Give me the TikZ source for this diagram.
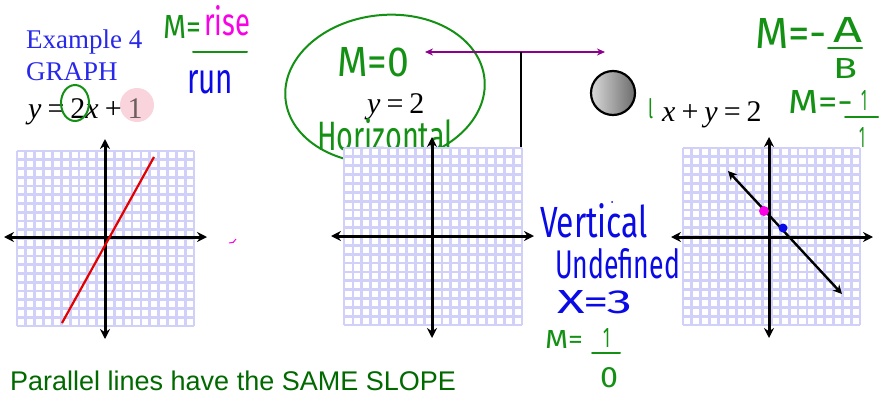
\documentclass[tikz,border=0pt]{standalone}
\usepackage{fontspec}
\setmainfont{Liberation Serif}
\newfontfamily\handfont{Fira Sans}
\newfontfamily\sansfont{Liberation Sans}
\usetikzlibrary{arrows.meta}
\definecolor{lav}{RGB}{208,208,248}
\definecolor{hgreen}{RGB}{20,145,20}
\definecolor{hblue}{RGB}{10,10,230}
\definecolor{hmag}{RGB}{250,0,230}
\definecolor{dgreen}{RGB}{0,105,0}
\definecolor{exblue}{RGB}{40,40,235}
\definecolor{purp}{RGB}{140,0,140}
\definecolor{pinkc}{RGB}{250,212,220}
\newcommand{\hw}[3]{\resizebox{#1pt}{#2pt}{\handfont #3}}
\newcommand{\msp}{\hspace{0.2em}}
\tikzset{
  gridline/.style={draw=lav, line width=2.8pt},
  axis/.style={draw=black, line width=3pt, {Stealth[length=10pt,width=10pt]}-{Stealth[length=10pt,width=10pt]}},
  hand/.style={inner sep=0pt, outer sep=0pt, anchor=north west},
  serif/.style={inner sep=0pt, anchor=base west, font=\fontsize{27}{30}\selectfont},
  mathtxt/.style={inner sep=0pt, anchor=base west, font=\fontsize{30}{32}\selectfont},
  frac/.style={line width=2pt, line cap=round}
}
\newcommand{\mygrid}[4]{%
  \fill[white] (#1,#2) rectangle (#3,#4);
  \foreach \i in {0,...,20} {
    \draw[gridline] ({#1+\i*(#3-#1)/20},#2) -- ({#1+\i*(#3-#1)/20},#4);
    \draw[gridline] (#1,{#2+\i*(#4-#2)/20}) -- (#3,{#2+\i*(#4-#2)/20});
  }%
}
\begin{document}
\begin{tikzpicture}[x=1pt,y=-1pt]
\useasboundingbox[fill=white] (0,0) rectangle (881,394);

% ---------- top-left text ----------
\node[serif, text=exblue] (ex) at (26,48) {Example 4};
\node[serif, text=exblue] (gr) at (26,80) {GRAPH};
\fill[pinkc] (137,105) circle (17);
\node[mathtxt] (eq1) at (28,118) {\textit{y}\msp=\msp2\textit{x}\msp+\msp\textcolor[RGB]{110,95,95}{1}};
\draw[hgreen, line width=2pt] (75,103) ellipse (14 and 18);

% slope formula
\node[hand, text=hgreen] (m1) at (163,15) {\hw{38}{23}{M=}};
\node[hand, text=hmag] (rise) at (204,5) {\hw{46}{30}{rise}};
\coordinate (f1a) at (193,52); \coordinate (f1b) at (247,52);
\draw[hgreen, frac] (f1a) -- (f1b);
\node[hand, text=hblue] (run) at (187,70) {\hw{46}{23}{run}};

% ---------- grid 1 ----------
\mygrid{17}{151}{194}{326}
\coordinate (a1l) at (4,237); \coordinate (a1r) at (207,237);
\coordinate (a1t) at (105,139); \coordinate (a1b) at (105,339);
\draw[axis] (a1l) -- (a1r);
\draw[axis] (a1t) -- (a1b);
\coordinate (r1) at (154,157); \coordinate (r2) at (62,323);
\draw[red!90!black, line width=2.2pt] (r1) -- (r2);
\draw[hmag, line width=1pt] (229,243) to[bend right=40] (236,239);

% ---------- middle: horizontal ----------
\node[mathtxt] (eq2) at (367,113) {\textit{y}\msp=\msp2};
\draw[hgreen, line width=2pt, rotate around={6:(385,89)}] (385,89) ellipse (100 and 74);
\node[hand, text=hgreen] (m0) at (337,47) {\hw{72}{29}{M=0}};
\node[hand, text=hgreen] (hz) at (317,118) {\hw{136}{32}{Horizontal}};

\coordinate (pl) at (425,52); \coordinate (pr) at (605,52);
\draw[purp, line width=1.6pt, {Stealth[length=8pt,width=7pt]}-{Stealth[length=8pt,width=7pt]}] (pl) -- (pr);
\coordinate (vt) at (521,52); \coordinate (vb) at (521,223);
\draw[black, line width=2.8pt] (vt) -- (vb);

% ---------- grid 2 ----------
\mygrid{344}{148}{522}{325}
\coordinate (a2l) at (331,236); \coordinate (a2r) at (534,236);
\coordinate (a2t) at (432,137); \coordinate (a2b) at (432,338);
\draw[axis] (a2l) -- (a2r);
\draw[axis] (a2t) -- (a2b);

\node[hand, text=hblue] (vert) at (540,203) {\hw{108}{34}{Vertical}};
\node[hand, text=hblue] (und) at (555,248) {\hw{125}{30}{Undefined}};
\node[hand, text=hblue] (x3) at (557,290) {\hw{75}{23}{X=3}};
\fill[hblue] (612,202) circle (1);
\node[hand, text=hgreen] (m10) at (545,330) {\hw{38}{18}{M=}};
\node[hand, text=hgreen] (one0) at (603,328) {\hw{7}{19}{1}};
\coordinate (f3a) at (592,353); \coordinate (f3b) at (620,353);
\draw[hgreen, frac] (f3a) -- (f3b);
\node[hand, text=hgreen] (zero) at (600,367) {\hw{18}{20}{0}};

% ---------- gray ball ----------
\shade[left color=gray!30, right color=gray!85!black] (613,93) circle (22);
\draw[black, line width=2.2pt] (613,93) circle (22);

% ---------- right equation ----------
\node[hand, text=hgreen] (c1) at (648,98) {\hw{5}{20}{l}};
\node[mathtxt] (eq3) at (662,121) {\textit{x}\msp+\msp\textit{y}\msp=\msp2};
\node[hand, text=hgreen] (mab) at (755,18) {\hw{72}{30}{M=-}};
\node[hand, text=hgreen] (ta) at (833,17) {\hw{29}{25}{A}};
\coordinate (f2a) at (828,48); \coordinate (f2b) at (862,48);
\draw[hgreen, frac] (f2a) -- (f2b);
\node[hand, text=hgreen] (tb) at (833,58) {\hw{24}{20}{B}};
\node[hand, text=hgreen] (m11) at (788,90) {\hw{65}{23}{M=-}};
\node[hand, text=hgreen] (n1) at (861,90) {\hw{6}{20}{1}};
\coordinate (f4a) at (845,117); \coordinate (f4b) at (878,117);
\draw[hgreen, frac] (f4a) -- (f4b);
\node[hand, text=hgreen] (d1) at (859,127) {\hw{6}{20}{1}};

% ---------- grid 3 ----------
\mygrid{683}{148}{860}{325}
\coordinate (a3l) at (671,237); \coordinate (a3r) at (873,237);
\coordinate (a3t) at (769,137); \coordinate (a3b) at (769,338);
\draw[axis] (a3l) -- (a3r);
\draw[axis] (a3t) -- (a3b);
\coordinate (s1) at (728,171); \coordinate (s2) at (842,294);
\draw[black, line width=2.4pt, {Stealth[length=9pt,width=9pt]}-{Stealth[length=9pt,width=9pt]}] (s1) -- (s2);
\fill[hmag] (764,211) circle (5);
\fill[hblue] (783,228) circle (4.5);

% ---------- bottom text ----------
\node[inner sep=0pt, anchor=base west, text=dgreen, font=\sansfont\fontsize{27}{30}\selectfont] (par) at (10,390) {Parallel lines have the SAME SLOPE};
\end{tikzpicture}
\end{document}
